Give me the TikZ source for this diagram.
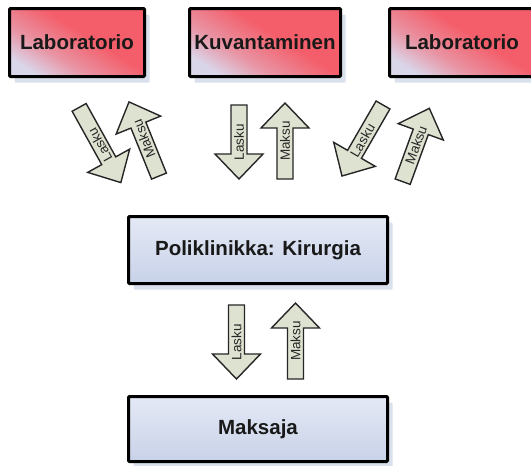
\documentclass[tikz,border=0pt]{standalone}
\usepackage{fontspec}
\setmainfont{Liberation Sans}
\usetikzlibrary{shadows}
\definecolor{redtop}{RGB}{244,94,106}
\definecolor{redlow}{RGB}{218,214,234}
\colorlet{redmid}{redtop!55!redlow}
\definecolor{bluetop}{RGB}{228,233,245}
\definecolor{bluelow}{RGB}{200,210,232}
\definecolor{shadowc}{RGB}{218,225,236}
\definecolor{arrowfill}{RGB}{222,226,208}
\pgfdeclarehorizontalshading{redgrad}{100bp}{color(0bp)=(redlow); color(24bp)=(redlow); color(38bp)=(redmid); color(56bp)=(redtop); color(100bp)=(redtop)}
\tikzset{
  box/.style={draw=black, line width=3pt, rounded corners=1pt, inner sep=0pt,
    font=\bfseries\fontsize{20.5}{24}\selectfont, text=black!90,
    drop shadow={shadow xshift=5pt, shadow yshift=-6pt, fill=shadowc, opacity=1}},
  redbox/.style={box, shading=redgrad, shading angle=58},
  bluebox/.style={box, shading=axis, top color=bluetop, bottom color=bluelow},
  barrow/.style={draw=black!85, fill=arrowfill, line width=1.4pt, line join=miter},
  alabel/.style={inner sep=0pt, font=\fontsize{13.5}{15}\selectfont, text=black!85}
}
% #1 name, #2 x, #3 y, #4 arrow angle, #5 length, #6 label, #7 label angle
\newcommand{\blockarr}[7]{%
  \begin{scope}[shift={(#2,#3)}, rotate=#4]
    \draw[barrow] (-#5/2,-8) -- (#5/2-25,-8) -- (#5/2-25,-24) -- (#5/2,0)
      -- (#5/2-25,24) -- (#5/2-25,8) -- (-#5/2,8) -- cycle;
  \end{scope}
  \node[alabel, rotate=#7] (#1) at (#2,#3) {#6};
}
\begin{document}
\begin{tikzpicture}[x=1pt,y=1pt]
\useasboundingbox (0,0) rectangle (531,-466);
\clip (0,0) rectangle (531,-466);
\fill[white] (0,0) rectangle (531,-466);

% top boxes
\node[redbox, minimum width=135pt, minimum height=68pt] (lab1) at (77,-42.5) {Laboratorio};
\node[redbox, minimum width=151pt, minimum height=68pt] (kuv) at (265,-42.5) {Kuvantaminen};
\node[redbox, minimum width=145pt, minimum height=68pt] (lab2) at (462,-42.5) {Laboratorio};

% middle and bottom boxes
\node[bluebox, minimum width=259pt, minimum height=67pt] (poli) at (258,-250) {Poliklinikka: Kirurgia};
\node[bluebox, minimum width=259pt, minimum height=65pt] (maks) at (258,-429) {Maksaja};

% block arrows
\blockarr{lasku1}{100}{-145}{-61}{86}{Lasku}{119}
\blockarr{maksu1}{144}{-139}{112}{80}{Maksu}{112}
\blockarr{lasku2}{239}{-142}{-90}{74}{Lasku}{90}
\blockarr{maksu2}{285}{-141}{90}{76}{Maksu}{90}
\blockarr{lasku3}{362.5}{-140.5}{-120}{82}{Lasku}{60}
\blockarr{maksu3}{416}{-145}{70}{78}{Maksu}{70}
\blockarr{lasku4}{236.5}{-342}{-90}{74}{Lasku}{90}
\blockarr{maksu4}{295.5}{-341}{90}{76}{Maksu}{90}
\end{tikzpicture}
\end{document}
